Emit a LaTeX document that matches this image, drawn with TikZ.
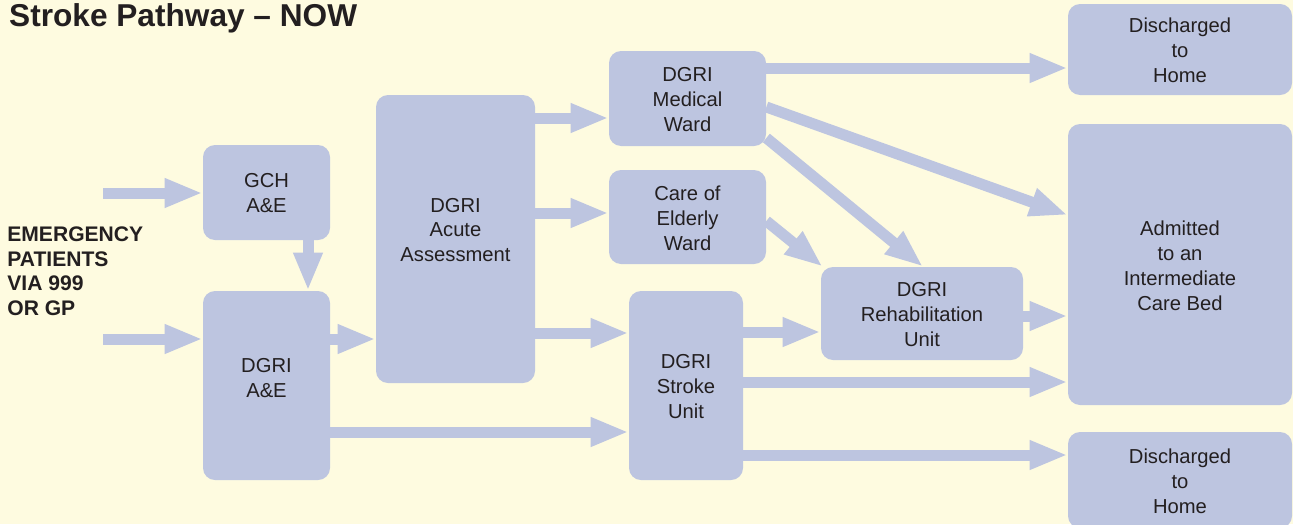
\documentclass[tikz,border=0pt]{standalone}
\usepackage{fontspec}
\setmainfont{Liberation Sans}
\usetikzlibrary{arrows.meta,fit}
\definecolor{paper}{HTML}{FEFBE0}
\definecolor{boxblue}{HTML}{BDC5E0}
\definecolor{ink}{HTML}{231F20}
\tikzset{
  box/.style={fill=boxblue, rounded corners=0.24cm, inner sep=0pt},
  txt/.style={align=center, text=ink, inner sep=0pt, yshift=-0.02cm,
    font=\fontsize{11.5}{14.2}\selectfont},
  flow/.style={draw=boxblue, line width=0.22cm,
    -{Triangle[length=0.76cm,width=0.54cm]}},
}
\begin{document}
\begin{tikzpicture}[x=0.02cm,y=-0.02cm]
    \fill[paper] (0,0) rectangle (1293,524);
    \useasboundingbox (0,0) rectangle (1293,524);
    % title and source
    \node[anchor=base west, text=ink, font=\fontsize{18}{20}\selectfont\bfseries] (title) at (3,27) {Stroke Pathway -- NOW};
    \node[anchor=north west, align=left, inner sep=0pt, text=ink, font=\fontsize{12}{14.2}\selectfont\bfseries] (patients) at (7,226)
        {EMERGENCY\\PATIENTS\\VIA 999\\OR GP};
    % boxes
    \node[box, fit={(203,145) (330,240)}, label={[txt]center:{GCH\\A\&E}}] (gch) {};
    \node[box, fit={(203,291) (330,480)}, label={[txt,yshift=0.16cm]center:{DGRI\\A\&E}}] (dae) {};
    \node[box, fit={(376,95) (535,383)}, label={[txt,yshift=0.20cm]center:{DGRI\\Acute\\Assessment}}] (acute) {};
    \node[box, fit={(609,51) (766,146)}, label={[txt]center:{DGRI\\Medical\\Ward}}] (med) {};
    \node[box, fit={(609,170) (766,264)}, label={[txt]center:{Care of\\Elderly\\Ward}}] (care) {};
    \node[box, fit={(629,291) (743,480)}, label={[txt]center:{DGRI\\Stroke\\Unit}}] (stroke) {};
    \node[box, fit={(821,267) (1023,360)}, label={[txt]center:{DGRI\\Rehabilitation\\Unit}}] (rehab) {};
    \node[box, fit={(1068,4) (1292,95)}, label={[txt]center:{Discharged\\to\\Home}}] (home1) {};
    \node[box, fit={(1068,124) (1292,405)}, label={[txt]center:{Admitted\\to an\\Intermediate\\Care Bed}}] (icb) {};
    \node[box, fit={(1068,432) (1292,528)}, label={[txt]center:{Discharged\\to\\Home}}] (home2) {};
    % arrows
    \coordinate (in1) at (103,193);
    \coordinate (in2) at (103,339);
    \draw[flow] (in1) -- (in1 -| gch.west);
    \draw[flow] (in2) -- (in2 -| dae.west);
    \draw[flow] (gch.south -| 308,0) -- (dae.north -| 308,0);
    \draw[flow] (dae.east |- 0,339) -- (acute.west |- 0,339);
    \draw[flow] (dae.east |- 0,432) -- (stroke.west |- 0,432);
    \draw[flow] (acute.east |- 0,118) -- (med.west |- 0,118);
    \draw[flow] (acute.east |- 0,213) -- (care.west |- 0,213);
    \draw[flow] (acute.east |- 0,333) -- (stroke.west |- 0,333);
    \draw[flow] (med.east |- 0,68) -- (home1.west |- 0,68);
    \draw[flow] (med.east |- 0,107) -- (icb.west |- 0,215);
    \draw[flow] (med.east |- 0,138) -- (rehab.north -| 923,0);
    \draw[flow] (care.east |- 0,221) -- ([xshift=0.04cm]rehab.north west);
    \draw[flow] (stroke.east |- 0,332) -- (rehab.west |- 0,332);
    \draw[flow] (rehab.east |- 0,316) -- (icb.west |- 0,316);
    \draw[flow] (stroke.east |- 0,382) -- (icb.west |- 0,382);
    \draw[flow] (stroke.east |- 0,455) -- (home2.west |- 0,455);
\end{tikzpicture}
\end{document}
